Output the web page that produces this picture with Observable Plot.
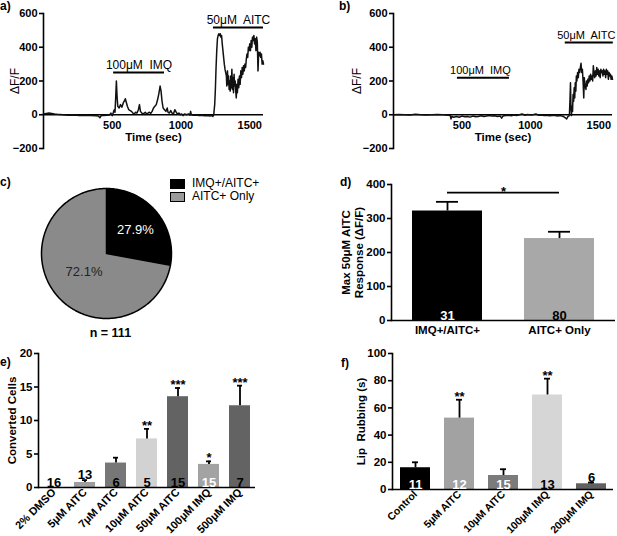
<!DOCTYPE html>
<html><head><meta charset="utf-8">
<script src="https://cdn.jsdelivr.net/npm/d3@7"></script>
<script src="https://cdn.jsdelivr.net/npm/@observablehq/plot@0.6"></script>
<style>
body{margin:0;background:#fff;}
#fig{position:relative;width:617px;height:536px;overflow:hidden;background:#fff;font-family:"Liberation Sans",Arial,sans-serif;color:#000;}
.panel{position:absolute;}
.lbl{position:absolute;font-weight:bold;font-size:12px;line-height:14px;}
.leg{position:absolute;font-size:12px;line-height:13px;}
.sw{position:absolute;width:13px;height:8px;border:1px solid #000;}
</style></head><body><div id="fig"></div>
<script>
// ---------- DATA ----------
const traceA = [[0,5],[20,8],[40,10],[60,8],[80,5],[100,3],[140,0],[180,-3],[220,-2],[260,-4],[300,-3],[340,-5],[380,-6],[400,-8],[410,-18],[420,-5],[440,-4],[460,-3],[480,-2],[490,10],[500,-5],[505,5],[510,20],[515,30],[520,15],[525,100],[530,200],[535,110],[540,50],[550,40],[560,60],[570,45],[580,70],[590,85],[595,95],[600,80],[610,50],[620,30],[630,25],[640,20],[650,10],[660,5],[670,15],[680,10],[690,30],[698,60],[705,20],[715,10],[725,5],[740,15],[750,5],[760,10],[770,15],[780,8],[790,20],[800,40],[810,50],[820,60],[830,90],[840,130],[848,170],[855,140],[862,80],[870,40],[880,30],[890,20],[900,40],[905,15],[915,10],[925,25],[935,10],[945,5],[955,30],[965,15],[975,5],[985,10],[995,0],[1005,5],[1015,-5],[1025,5],[1040,0],[1055,5],[1065,-2],[1070,20],[1075,0],[1090,-3],[1110,-2],[1130,-5],[1150,-3],[1170,-6],[1190,-4],[1210,-8],[1225,-5],[1232,-10],[1238,0],[1245,60],[1250,150],[1255,280],[1260,380],[1265,450],[1270,470],[1275,480],[1280,470],[1285,480],[1290,460],[1295,470],[1300,420],[1305,380],[1310,340],[1315,300],[1320,270],[1325,250],[1330,230],[1333,170],[1338,260],[1342,180],[1346,230],[1350,150],[1354,200],[1358,140],[1362,230],[1366,160],[1370,270],[1374,150],[1378,220],[1382,130],[1386,240],[1390,170],[1394,200],[1398,140],[1402,100],[1406,180],[1410,130],[1415,210],[1420,160],[1425,230],[1430,180],[1435,260],[1440,220],[1445,280],[1450,240],[1455,290],[1460,260],[1465,300],[1470,280],[1475,330],[1480,360],[1485,340],[1490,400],[1495,380],[1500,420],[1505,380],[1510,440],[1515,400],[1520,460],[1525,440],[1530,470],[1535,420],[1540,450],[1545,380],[1550,460],[1555,430],[1560,260],[1565,370],[1570,350],[1575,370],[1580,340],[1585,360],[1590,300],[1595,320],[1600,300]];
const traceB = [[0,0],[40,2],[80,0],[120,-2],[160,3],[200,0],[240,-2],[280,0],[320,2],[360,0],[400,-3],[415,-5],[420,-25],[425,-10],[440,-15],[460,-10],[480,-15],[500,-8],[520,-12],[540,-10],[560,-14],[580,-8],[600,-12],[620,-10],[640,-6],[660,-10],[680,-8],[700,-5],[720,-8],[740,-6],[760,-10],[780,-8],[790,-20],[800,-8],[820,-5],[840,-3],[860,-6],[880,-2],[900,-4],[920,0],[940,5],[960,-3],[980,2],[1000,-2],[1020,0],[1040,5],[1060,-3],[1080,-2],[1100,-5],[1120,-3],[1140,-6],[1160,-4],[1180,-5],[1200,-8],[1220,-5],[1240,-10],[1255,-18],[1265,-25],[1275,-10],[1285,-5],[1290,100],[1293,190],[1296,60],[1300,-5],[1304,50],[1308,20],[1312,120],[1316,80],[1320,160],[1324,100],[1328,190],[1332,140],[1336,230],[1340,200],[1345,250],[1350,220],[1355,270],[1360,250],[1365,280],[1370,305],[1375,250],[1380,270],[1385,200],[1390,100],[1394,220],[1398,160],[1402,180],[1406,150],[1410,200],[1415,170],[1420,210],[1425,190],[1430,230],[1435,200],[1440,240],[1445,210],[1450,230],[1455,200],[1460,290],[1465,240],[1470,220],[1475,260],[1480,230],[1485,280],[1490,240],[1495,270],[1500,230],[1505,260],[1510,220],[1515,270],[1520,250],[1525,260],[1530,230],[1535,270],[1540,240],[1545,260],[1550,220],[1555,270],[1560,240],[1565,260],[1570,210],[1575,250],[1580,230],[1585,240],[1590,210],[1595,230],[1600,210]];
const traceYTicks = [-200, 0, 200, 400, 600];
const traceXTicks = [500, 1000, 1500];
const stimA = [{label: "100μM\u00a0 IMQ", start: 510, end: 880, level: 250}, {label: "50μM\u00a0 AITC", start: 1236, end: 1600, level: 517}];
const stimB = [{label: "100μM\u00a0 IMQ", start: 467, end: 847, level: 220}, {label: "50μM\u00a0 AITC", start: 1255, end: 1606, level: 428}];

const pieLabels = ["IMQ+/AITC+", "AITC+ Only"];
const piePercents = [27.9, 72.1];
const pieN = 111;

const dCats = ["IMQ+/AITC+", "AITC+ Only"];
const dMean = [322, 241];
const dSem = [27, 20];
const dN = [31, 80];
const dTicks = [0, 100, 200, 300, 400];

const eCats = ["2% DMSO", "5μM AITC", "7μM AITC", "10μM AITC", "50μM AITC", "100μM IMQ", "500μM IMQ"];
const eMean = [0, 0.75, 3.65, 7.25, 13.55, 3.45, 12.2];
const eSem = [0, 0.35, 0.8, 1.5, 1.3, 0.45, 3.0];
const eN = [16, 13, 6, 5, 15, 15, 7];
const eStars = ["", "", "", "**", "***", "*", "***"];
const eTicks = [0, 5, 10, 15, 20];

const fCats = ["Control", "5μM AITC", "10μM AITC", "100μM IMQ", "200μM IMQ"];
const fMean = [16, 52.5, 10.3, 69.5, 4.2];
const fSem = [4, 13.5, 4.6, 12, 0.9];
const fN = [11, 12, 15, 13, 6];
const fStars = ["", "**", "", "**", ""];
const fTicks = [0, 20, 40, 60, 80, 100];

// ---------- STYLES ----------
const FONT = '"Liberation Sans", Arial, sans-serif';
const pieColors = ["#000000", "#8a8a8a"];
const pieLegendColors = ["#000000", "#9b9b9b"];
const pieTextColors = ["#ffffff", "#222222"];
const dColors = ["#000000", "#a8a8a8"];
const dTextColors = ["#ffffff", "#000000"];
const eColors = ["#000000", "#9e9e9e", "#777777", "#d2d2d2", "#636363", "#a3a3a3", "#636363"];
const eTextColors = ["#000", "#000", "#000", "#000", "#000", "#fff", "#000"];
const fColors = ["#000000", "#a2a2a2", "#7b7b7b", "#d6d6d6", "#616161"];
const fTextColors = ["#fff", "#fff", "#fff", "#000", "#000"];

const fig = document.getElementById("fig");
function place(el, left, top) {
  const d = document.createElement("div");
  d.className = "panel"; d.style.left = left + "px"; d.style.top = top + "px";
  d.appendChild(el); fig.appendChild(d);
}
function label(txt, left, top, cls = "lbl") {
  const d = document.createElement("div");
  d.className = cls; d.textContent = txt; d.style.left = left + "px"; d.style.top = top + "px";
  fig.appendChild(d); return d;
}
const baseStyle = {fontFamily: FONT, fontSize: "11px", fontWeight: "bold", background: "transparent", overflow: "visible", color: "#000"};

// ---------- TRACE PANELS ----------
function tracePanel(trace, stim, opts) {
  return Plot.plot({
    width: opts.width, height: 170,
    marginLeft: 43, marginRight: opts.marginRight, marginTop: 13, marginBottom: 22,
    style: baseStyle,
    x: {domain: [0, 1600], axis: null},
    y: {domain: [-200, 600], axis: null},
    marks: [
      Plot.frame({anchor: "left", strokeWidth: 1.6}),
      Plot.axisY({ticks: traceYTicks, tickSize: 4, tickPadding: 2, label: null, strokeWidth: 1.6}),
      Plot.ruleY([0], {strokeWidth: 1.3}),
      Plot.text(traceXTicks, {x: d => d, y: 0, text: d => String(d), dy: 6, lineAnchor: "top"}),
      Plot.text(["Time (sec)"], {y: 0, dy: 18, lineAnchor: "top", fontSize: 11.5}),
      Plot.text(["ΔF/F"], {frameAnchor: "left", textAnchor: "middle", dx: opts.ylabDx, rotate: -90, fontWeight: "normal", fontSize: 12}),
      Plot.line(trace, {x: d => d[0], y: d => d[1], stroke: "#111", strokeWidth: 1.5}),
      Plot.ruleY(stim, {x1: "start", x2: "end", y: "level", strokeWidth: 2}),
      Plot.text(stim, {x: d => (d.start + d.end) / 2, y: "level", text: "label", dx: opts.stimDx, dy: -4, lineAnchor: "bottom", fontWeight: "normal", fontSize: opts.stimFont})
    ]
  });
}
place(tracePanel(traceA, stimA, {width: 300, marginRight: 37, ylabDx: -28, stimFont: 12, stimDx: 0}), 0, 0);
place(tracePanel(traceB, stimB, {width: 267, marginRight: 5, ylabDx: -36, stimFont: 11, stimDx: -3}), 350, 0);

// ---------- PIE ----------
const pieTotal = d3.sum(piePercents);
let acc = 0;
const slices = piePercents.map((v, i) => {
  const a0 = acc / pieTotal * 2 * Math.PI; acc += v;
  const a1 = acc / pieTotal * 2 * Math.PI;
  const n = Math.ceil((a1 - a0) / (Math.PI / 180));
  const pts = [[0, 0]];
  for (let k = 0; k <= n; k++) { const a = a0 + (a1 - a0) * k / n; pts.push([Math.sin(a), Math.cos(a)]); }
  pts.push([0, 0]);
  return {pts, mid: (a0 + a1) / 2, text: v.toFixed(1) + "%", i};
});
const labelR = [0.58, 0.45];
const pie = Plot.plot({
  width: 305, height: 180,
  marginLeft: 41, marginRight: 134, marginTop: 18, marginBottom: 32,
  style: baseStyle,
  x: {domain: [-1, 1], axis: null},
  y: {domain: [-1, 1], axis: null},
  marks: [
    ...slices.map(s => Plot.line(s.pts, {x: d => d[0], y: d => d[1], fill: pieColors[s.i], stroke: "#000", strokeWidth: 1.5, strokeLinejoin: "round"})),
    Plot.text(slices, {x: s => labelR[s.i] * Math.sin(s.mid), y: s => labelR[s.i] * Math.cos(s.mid), text: "text", fill: s => pieTextColors[s.i], fontWeight: "normal", fontSize: 13}),
    Plot.text(["n = " + pieN], {x: 0.06, y: -1, dy: 14, fontSize: 12.5})
  ]
});
place(pie, 0, 170);
pieLabels.forEach((l, i) => {
  const sw = document.createElement("div");
  sw.className = "sw"; sw.style.left = "170px"; sw.style.top = (179 + 13 * i) + "px"; sw.style.background = pieLegendColors[i];
  fig.appendChild(sw);
  label(l, 192, 177 + 13 * i, "leg");
});

// ---------- BAR HELPERS ----------
function barPanel(cats, mean, sem, n, stars, colors, textColors, cfg) {
  const rows = cats.map((c, i) => ({c, m: mean[i], s: sem[i], n: n[i], star: stars ? stars[i] : "", tc: textColors[i], above: mean[i] < cfg.aboveBelow}));
  const errRows = rows.filter(r => r.s > 0);
  return Plot.plot({
    width: cfg.width, height: cfg.height,
    marginLeft: cfg.ml, marginRight: cfg.mr, marginTop: cfg.mt, marginBottom: cfg.mb,
    style: baseStyle,
    x: {domain: cats, paddingInner: cfg.pi, paddingOuter: cfg.pi / 2, axis: null},
    y: {domain: cfg.ydomain, axis: null},
    color: {type: "ordinal", domain: cats, range: colors},
    marks: [
      Plot.barY(rows, {x: "c", y: "m", fill: "c"}),
      Plot.ruleX(errRows, {x: "c", y1: "m", y2: r => r.m + r.s, strokeWidth: 1.8}),
      Plot.tickY(errRows, {x: "c", y: r => r.m + r.s, strokeWidth: 1.8, insetLeft: cfg.capInset, insetRight: cfg.capInset}),
      Plot.frame({anchor: "left", strokeWidth: 1.6}),
      Plot.ruleY([0], {strokeWidth: 1.6}),
      Plot.axisY({ticks: cfg.ticks, tickSize: 4, tickPadding: 2, label: null, strokeWidth: 1.6, fontSize: cfg.tickFont}),
      Plot.axisX({tickRotate: cfg.rotate, tickSize: 0, tickPadding: cfg.xpad, label: null, fontSize: cfg.xFont}),
      Plot.text(rows.filter(r => !r.above), {x: "c", y: 0, text: r => String(r.n), fill: "tc", lineAnchor: "bottom", dy: -1, fontSize: 13}),
      Plot.text(rows.filter(r => r.above), {x: "c", y: r => r.m + r.s, text: r => String(r.n), fill: "tc", lineAnchor: "bottom", dy: -1, fontSize: 13}),
      Plot.text(rows.filter(r => r.star), {x: "c", y: r => r.m + r.s, text: "star", lineAnchor: "bottom", dy: 1, fontSize: 13}),
      Plot.text([cfg.ylabel], {frameAnchor: "left", textAnchor: "middle", dx: cfg.ylabDx, rotate: -90, fontSize: cfg.ylabFont, lineHeight: 1.1})
    ]
  });
}

// ---------- PANEL D ----------
const dPlot = barPanel(dCats, dMean, dSem, dN, null, dColors, dTextColors, {
  width: 312, height: 180, ml: 86, mr: 2, mt: 14, mb: 30, pi: 0.375, ydomain: [0, 400], ticks: dTicks,
  capInset: 24, rotate: 0, xpad: 5, xFont: 11.5, tickFont: 11.5, aboveBelow: -1,
  ylabel: "Max 50μM AITC\nResponse (ΔF/F)", ylabDx: -39, ylabFont: 11.5
});
place(dPlot, 305, 170);
// significance annotation for d
const dSig = Plot.plot({
  width: 312, height: 180,
  marginLeft: 86, marginRight: 2, marginTop: 14, marginBottom: 30,
  style: baseStyle,
  x: {domain: dCats, paddingInner: 0.375, paddingOuter: 0.1875, axis: null},
  y: {domain: [0, 400], axis: null},
  marks: [
    Plot.ruleY([376], {x1: () => dCats[0], x2: () => dCats[1], y: d => d, strokeWidth: 1.6}),
    Plot.text(["*"], {y: 376, lineAnchor: "bottom", dy: 3, fontSize: 13})
  ]
});
place(dSig, 305, 170);

// ---------- PANEL E ----------
place(barPanel(eCats, eMean, eSem, eN, eStars, eColors, eTextColors, {
  width: 305, height: 186, ml: 38, mr: 50, mt: 3, mb: 49, pi: 0.32, ydomain: [0, 20], ticks: eTicks,
  capInset: 8, rotate: -45, xpad: 3, xFont: 11, tickFont: 11.5, aboveBelow: 2,
  ylabel: "Converted Cells", ylabDx: -27, ylabFont: 11.5
}), 0, 350);

// ---------- PANEL F ----------
place(barPanel(fCats, fMean, fSem, fN, fStars, fColors, fTextColors, {
  width: 312, height: 186, ml: 87, mr: 4, mt: 3, mb: 47, pi: 0.32, ydomain: [0, 100], ticks: fTicks,
  capInset: 12, rotate: -45, xpad: 3, xFont: 10.5, tickFont: 11.5, aboveBelow: 8,
  ylabel: "Lip\u00a0 Rubbing (s)", ylabDx: -32, ylabFont: 11.5
}), 305, 350);

// ---------- PANEL LETTERS ----------
label("a)", 0, -1); label("b)", 339, -1); label("c)", 0, 175);
label("d)", 340, 175); label("e)", 0, 355); label("f)", 341, 356);
</script></body></html>
